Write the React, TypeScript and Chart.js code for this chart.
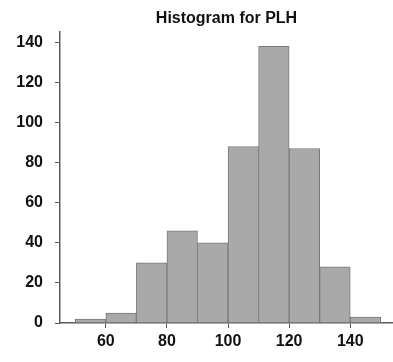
import React, { useEffect, useRef } from "react";
import { Chart, registerables } from "chart.js";

Chart.register(...registerables);

// Histogram bins (lower edge, width 10) and their counts
const binStarts = [50, 60, 70, 80, 90, 100, 110, 120, 130, 140];
const binWidth = 10;
const counts = [2, 5, 30, 46, 40, 88, 138, 87, 28, 3];
const xTicks = [60, 80, 100, 120, 140];
const yTicks = [0, 20, 40, 60, 80, 100, 120, 140];
const title = "Histogram for PLH";

export default function App() {
  const canvasRef = useRef<HTMLCanvasElement | null>(null);

  useEffect(() => {
    document.body.style.margin = "0";
    const canvas = canvasRef.current;
    if (!canvas) return;

    const points = binStarts.map((s, i) => ({ x: s + binWidth / 2, y: counts[i] }));
    const tickFont = { family: "'Liberation Sans', Arial, sans-serif", size: 16, weight: "bold" as const };
    const axisColor = "#5a5a5a";

    const chart = new Chart(canvas, {
      type: "bar",
      data: {
        datasets: [
          {
            data: points,
            backgroundColor: "#a9a9a9",
            borderColor: "#7a7a7a",
            borderWidth: 1,
            barPercentage: 1,
            categoryPercentage: 1,
          },
        ],
      },
      options: {
        responsive: false,
        animation: false,
        layout: { padding: 0 },
        plugins: {
          legend: { display: false },
          tooltip: { enabled: false },
          title: {
            display: true,
            text: title,
            fullSize: false,
            color: "#111",
            font: { family: "'Liberation Sans', Arial, sans-serif", size: 16, weight: "bold" },
            padding: { top: 9, bottom: 4 },
          },
        },
        scales: {
          x: {
            type: "linear",
            min: 45,
            max: 154,
            offset: false,
            grid: {
              display: true,
              offset: false,
              drawOnChartArea: false,
              drawTicks: true,
              tickLength: 5,
              color: axisColor,
            },
            border: { display: true, color: axisColor, width: 1.5 },
            ticks: {
              includeBounds: false,
              stepSize: 20,
              color: "#111",
              font: tickFont,
              padding: 4,
              maxRotation: 0,
            },
            afterBuildTicks: (scale: any) => {
              scale.ticks = xTicks.map((v) => ({ value: v }));
            },
            afterFit: (scale: any) => {
              scale.height = 39;
            },
          },
          y: {
            min: 0,
            max: 145,
            grid: { display: true, drawOnChartArea: false, drawTicks: true, tickLength: 5, color: axisColor },
            border: { display: true, color: axisColor, width: 1.5 },
            ticks: {
              includeBounds: false,
              stepSize: 20,
              color: "#111",
              font: tickFont,
              padding: 12,
            },
            afterBuildTicks: (scale: any) => {
              scale.ticks = yTicks.map((v) => ({ value: v }));
            },
            afterFit: (scale: any) => {
              scale.width = 60;
            },
          },
        },
      },
    });

    return () => chart.destroy();
  }, []);

  return (
    <div style={{ width: 393, height: 362, background: "#fff" }}>
      <canvas ref={canvasRef} width={393} height={362} style={{ display: "block" }} />
    </div>
  );
}
